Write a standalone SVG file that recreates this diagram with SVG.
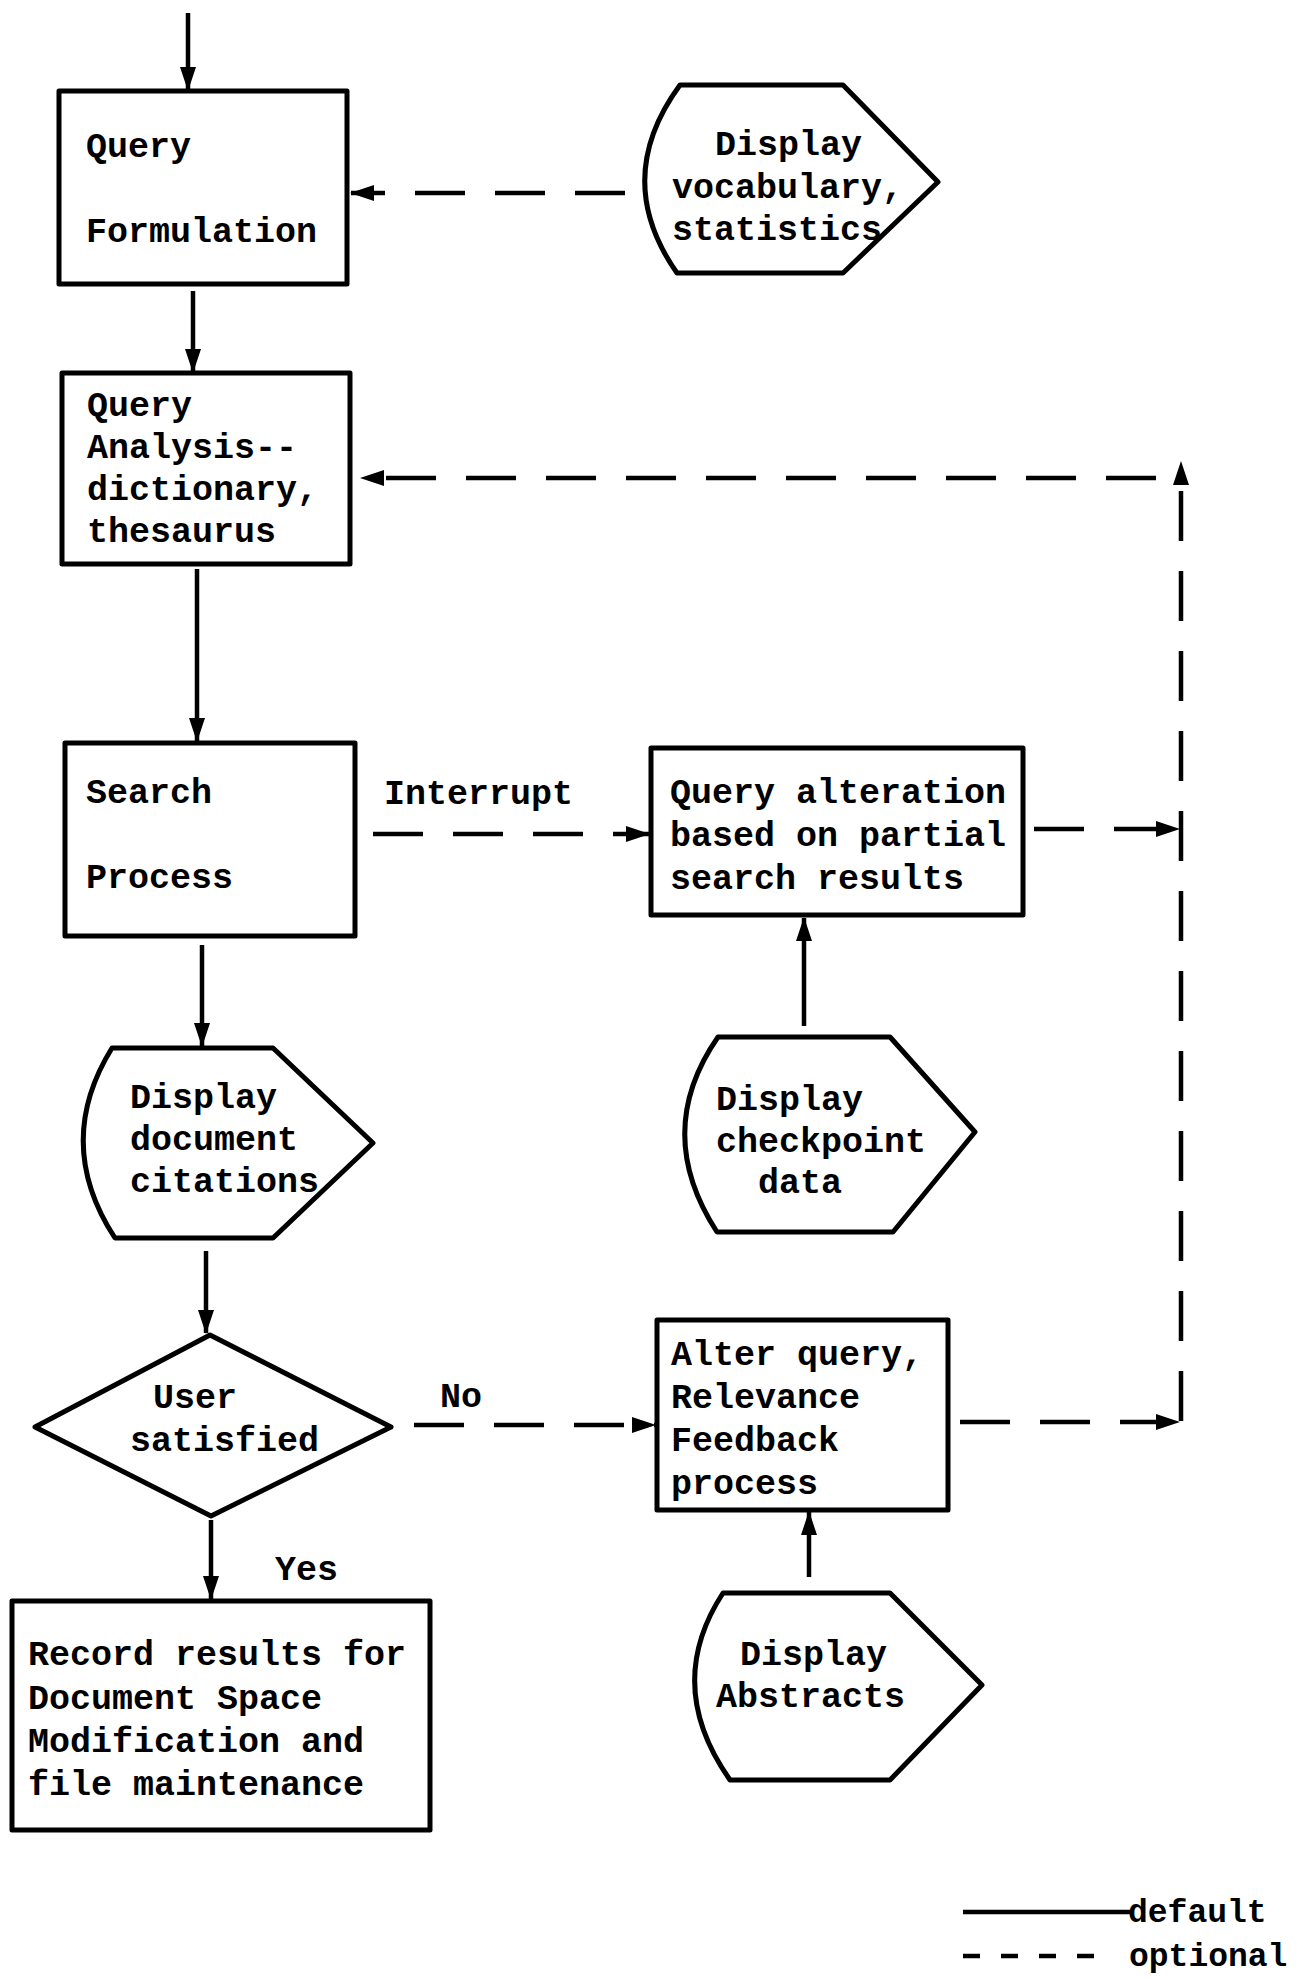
<svg xmlns="http://www.w3.org/2000/svg" width="1299" height="1982" viewBox="0 0 1299 1982">
<defs>
<marker id="arr" viewBox="0 0 24 16" refX="23" refY="8" markerWidth="24" markerHeight="16" markerUnits="userSpaceOnUse" orient="auto">
<path d="M0,0 L24,8 L0,16 Z" fill="#000"/>
</marker>
</defs>
<style>
.bg{fill:#fff}
.box{fill:#fff;stroke:#000;stroke-width:5;stroke-linejoin:round}
.t{font-family:"Liberation Mono","Courier New",monospace;font-size:35px;font-weight:bold;fill:#000}
.lg{font-size:33px}
.c{fill:none;stroke:#000;stroke-width:4.5}
.d{fill:none;stroke:#000;stroke-width:4.5;stroke-dasharray:50 30}
</style>
<rect class="bg" x="0" y="0" width="1299" height="1982"/>

<g id="connectors">
<path class="c" d="M188,13 L188,90" marker-end="url(#arr)"/>
<path class="d" d="M625,193 L351,193" marker-end="url(#arr)"/>
<path class="c" d="M193,291 L193,372" marker-end="url(#arr)"/>
<path class="d" d="M1156,478 L361,478" marker-end="url(#arr)"/>
<path class="d" d="M1181,1421 L1181,462" marker-end="url(#arr)"/>
<path class="c" d="M197,569 L197,741" marker-end="url(#arr)"/>
<path class="d" d="M373,834 L649,834" marker-end="url(#arr)"/>
<path class="d" d="M1034,829 L1179,829" marker-end="url(#arr)"/>
<path class="c" d="M804,1026 L804,918" marker-end="url(#arr)"/>
<path class="c" d="M202,945 L202,1046" marker-end="url(#arr)"/>
<path class="c" d="M206,1251 L206,1333" marker-end="url(#arr)"/>
<path class="d" d="M414,1425 L655,1425" marker-end="url(#arr)"/>
<path class="d" d="M960,1422 L1179,1422" marker-end="url(#arr)"/>
<path class="c" d="M809,1577 L809,1512" marker-end="url(#arr)"/>
<path class="c" d="M211,1520 L211,1599" marker-end="url(#arr)"/>
</g>

<g id="edge-labels">
<text class="t" x="384" y="804">Interrupt</text>
<text class="t" x="440" y="1407">No</text>
<text class="t" x="275" y="1580">Yes</text>
</g>

<g id="query-formulation">
<rect class="box" x="59" y="91" width="288" height="193"/>
<text class="t" x="86" y="157">Query</text>
<text class="t" x="86" y="242">Formulation</text>
</g>

<g id="display-vocabulary">
<path class="box" d="M680,85 L843,85 L938,182 L843,273 L677,273 Q611,179 680,85 Z"/>
<text class="t" x="715" y="155">Display</text>
<text class="t" x="672" y="198">vocabulary,</text>
<text class="t" x="672" y="240">statistics</text>
</g>

<g id="query-analysis">
<rect class="box" x="62" y="373" width="288" height="191"/>
<text class="t" x="87" y="416">Query</text>
<text class="t" x="87" y="458">Analysis--</text>
<text class="t" x="87" y="500">dictionary,</text>
<text class="t" x="87" y="542">thesaurus</text>
</g>

<g id="search-process">
<rect class="box" x="65" y="743" width="290" height="193"/>
<text class="t" x="86" y="803">Search</text>
<text class="t" x="86" y="888">Process</text>
</g>

<g id="query-alteration">
<rect class="box" x="651" y="748" width="372" height="167"/>
<text class="t" x="670" y="803">Query alteration</text>
<text class="t" x="670" y="846">based on partial</text>
<text class="t" x="670" y="889">search results</text>
</g>

<g id="display-citations">
<path class="box" d="M112,1048 L273,1048 L373,1143 L273,1238 L115,1238 Q53,1143 112,1048 Z"/>
<text class="t" x="130" y="1108">Display</text>
<text class="t" x="130" y="1150">document</text>
<text class="t" x="130" y="1192">citations</text>
</g>

<g id="display-checkpoint">
<path class="box" d="M718,1037 L890,1037 L975,1132 L893,1232 L717,1232 Q652,1132 718,1037 Z"/>
<text class="t" x="716" y="1110">Display</text>
<text class="t" x="716" y="1152">checkpoint</text>
<text class="t" x="758" y="1193">data</text>
</g>

<g id="user-satisfied">
<path class="box" d="M210,1335 L391,1427 L211,1516 L35,1427 Z"/>
<text class="t" x="153" y="1408">User</text>
<text class="t" x="130" y="1451">satisfied</text>
</g>

<g id="alter-query">
<rect class="box" x="657" y="1320" width="291" height="190"/>
<text class="t" x="671" y="1365">Alter query,</text>
<text class="t" x="671" y="1408">Relevance</text>
<text class="t" x="671" y="1451">Feedback</text>
<text class="t" x="671" y="1494">process</text>
</g>

<g id="display-abstracts">
<path class="box" d="M723,1593 L890,1593 L982,1685 L890,1780 L730,1780 Q663,1685 723,1593 Z"/>
<text class="t" x="740" y="1665">Display</text>
<text class="t" x="716" y="1707">Abstracts</text>
</g>

<g id="record-results">
<rect class="box" x="12" y="1601" width="418" height="229"/>
<text class="t" x="28" y="1665">Record results for</text>
<text class="t" x="28" y="1709">Document Space</text>
<text class="t" x="28" y="1752">Modification and</text>
<text class="t" x="28" y="1795">file maintenance</text>
</g>

<g id="legend">
<path class="c" d="M963,1912 L1130,1912"/>
<path class="c" d="M963,1956 L1094,1956" style="stroke-dasharray:17 21"/>
<text class="t lg" x="1128" y="1922">default</text>
<text class="t lg" x="1129" y="1966">optional</text>
</g>
</svg>
